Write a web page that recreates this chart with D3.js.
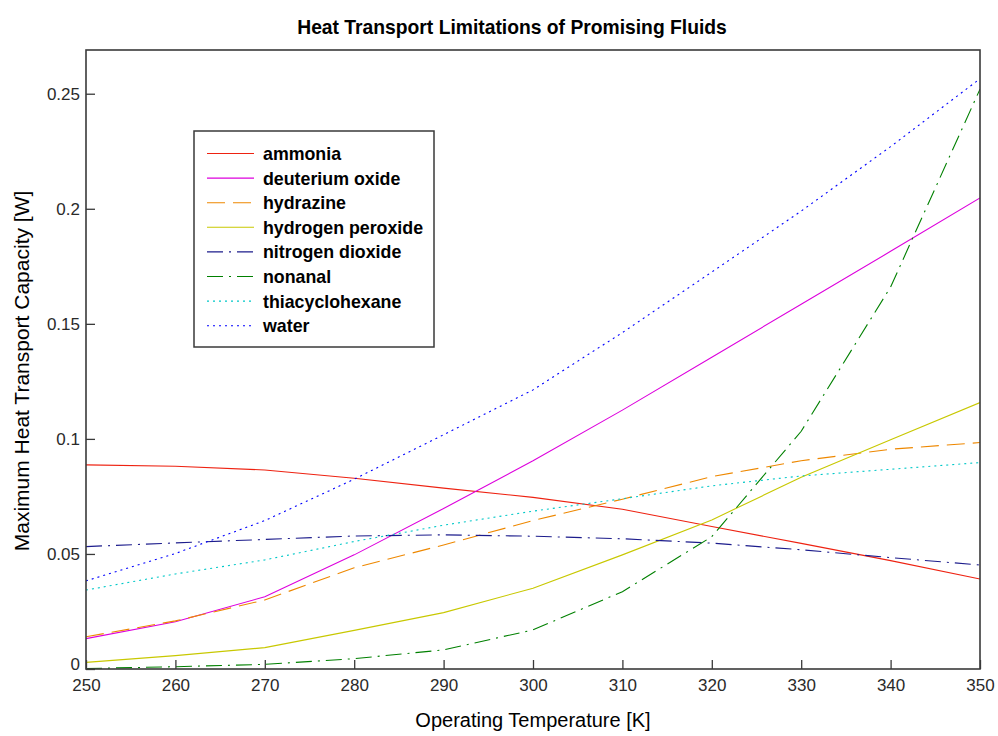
<!DOCTYPE html>
<html>
<head>
<meta charset="utf-8">
<script src="https://cdn.jsdelivr.net/npm/d3@7"></script>
<style>
  html, body { margin: 0; padding: 0; background: #fff; }
  svg { display: block; font-family: "Liberation Sans", Arial, sans-serif; }
</style>
</head>
<body>
<svg id="chart" width="998" height="736"></svg>
<script>
// ---------------- data ----------------
const temperatures = [250, 260, 270, 280, 290, 300, 310, 320, 330, 340, 350];
const ammonia          = [0.0887, 0.0881, 0.0865, 0.0829, 0.0786, 0.0746, 0.0694, 0.0619, 0.0546, 0.0471, 0.0391];
const deuteriumOxide   = [0.0132, 0.0205, 0.0314, 0.0496, 0.0697, 0.0905, 0.1125, 0.1355, 0.1585, 0.1815, 0.2047];
const hydrazine        = [0.0140, 0.0209, 0.0300, 0.0440, 0.0539, 0.0645, 0.0738, 0.0836, 0.0905, 0.0955, 0.0984];
const hydrogenPeroxide = [0.0029, 0.0058, 0.0093, 0.0168, 0.0245, 0.0351, 0.0496, 0.0648, 0.0833, 0.0996, 0.1158];
const nitrogenDioxide  = [0.0532, 0.0548, 0.0563, 0.0578, 0.0583, 0.0577, 0.0566, 0.0547, 0.0518, 0.0484, 0.0452];
const nonanal          = [0.0002, 0.0010, 0.0020, 0.0045, 0.0083, 0.0170, 0.0336, 0.0575, 0.1033, 0.1660, 0.2520];
const thiacyclohexane  = [0.0343, 0.0413, 0.0474, 0.0554, 0.0625, 0.0686, 0.0740, 0.0796, 0.0839, 0.0868, 0.0897];
const water            = [0.0383, 0.0502, 0.0645, 0.0825, 0.1018, 0.1213, 0.1462, 0.1725, 0.1990, 0.2270, 0.2565];

const seriesNames = ["ammonia", "deuterium oxide", "hydrazine", "hydrogen peroxide",
                     "nitrogen dioxide", "nonanal", "thiacyclohexane", "water"];
const seriesValues = [ammonia, deuteriumOxide, hydrazine, hydrogenPeroxide,
                      nitrogenDioxide, nonanal, thiacyclohexane, water];
const xTicks = [250, 260, 270, 280, 290, 300, 310, 320, 330, 340, 350];
const yTicks = [0, 0.05, 0.1, 0.15, 0.2, 0.25];
const yTickLabels = ["0", "0.05", "0.1", "0.15", "0.2", "0.25"];

// ---------------- styles ----------------
const colors = ["#ee2211", "#dd00dd", "#ee8800", "#c8c800", "#1c1c8c", "#008000", "#00c8c8", "#0000ff"];
const dashes = [null, null, "18,8", null, "16,6,2,6", "16,6,2,6", "2,4", "2,4"];

// ---------------- layout ----------------
const svg = d3.select("#chart");
const L = 86, T = 50, R = 980, B = 669;
const x = d3.scaleLinear().domain([250, 350]).range([L, R]);
const y = d3.scaleLinear().domain([0, 0.269]).range([B, T]);

svg.append("rect").attr("width", 998).attr("height", 736).attr("fill", "#fff");

svg.append("clipPath").attr("id", "clip")
  .append("rect").attr("x", L).attr("y", T).attr("width", R - L).attr("height", B - T);

// lines
const line = d3.line().x((d, i) => x(temperatures[i])).y(d => y(d));
const g = svg.append("g").attr("clip-path", "url(#clip)");
seriesValues.forEach((vals, k) => {
  g.append("path")
    .attr("d", line(vals))
    .attr("fill", "none")
    .attr("stroke", colors[k])
    .attr("stroke-width", 1.1)
    .attr("stroke-dasharray", dashes[k]);
});

// axes
const axisColor = "#3a3a3a";
const xAxis = d3.axisBottom(x).tickValues(xTicks).tickSizeInner(-9).tickSizeOuter(0).tickPadding(13)
  .tickFormat(d3.format("d"));
const yAxis = d3.axisLeft(y).tickValues(yTicks).tickSizeInner(-9).tickSizeOuter(0).tickPadding(15)
  .tickFormat((d, i) => yTickLabels[i]);

const gx = svg.append("g").attr("transform", `translate(0,${B})`).call(xAxis);
const gy = svg.append("g").attr("transform", `translate(${L},0)`).call(yAxis);
[gx, gy].forEach(a => {
  a.select(".domain").remove();
  a.selectAll(".tick line").attr("stroke", axisColor).attr("stroke-width", 1.3);
  a.selectAll(".tick text").attr("fill", "#2a2a2a").style("font-size", "17px")
    .style("font-family", "'Liberation Sans', Arial, sans-serif");
});
gx.selectAll(".tick text").attr("dy", "0.55em");
gy.selectAll(".tick text").attr("x", -6);
gy.selectAll(".tick").filter(d => d === 0).select("text").attr("dy", "0.0em");

// box
svg.append("rect").attr("x", L).attr("y", T).attr("width", R - L).attr("height", B - T)
  .attr("fill", "none").attr("stroke", axisColor).attr("stroke-width", 1.6);

// title & labels
svg.append("text").attr("x", 512).attr("y", 34).attr("text-anchor", "middle")
  .style("font-size", "19.3px").style("font-weight", "bold").attr("fill", "#000")
  .text("Heat Transport Limitations of Promising Fluids");
svg.append("text").attr("x", 533).attr("y", 727).attr("text-anchor", "middle")
  .style("font-size", "20px").attr("fill", "#000")
  .text("Operating Temperature [K]");
svg.append("text").attr("transform", "translate(29,371) rotate(-90)").attr("text-anchor", "middle")
  .style("font-size", "21px").attr("fill", "#000")
  .text("Maximum Heat Transport Capacity [W]");

// legend
const lg = svg.append("g");
lg.append("rect").attr("x", 194).attr("y", 131).attr("width", 240).attr("height", 216)
  .attr("fill", "#fff").attr("stroke", axisColor).attr("stroke-width", 1.5);
seriesNames.forEach((name, k) => {
  const cy = 153.5 + k * 24.6;
  lg.append("line").attr("x1", 207).attr("x2", 254).attr("y1", cy).attr("y2", cy)
    .attr("stroke", colors[k]).attr("stroke-width", 1.1).attr("stroke-dasharray", dashes[k]);
  lg.append("text").attr("x", 263).attr("y", cy).attr("dy", "0.36em")
    .style("font-size", "17.8px").style("font-weight", "bold").attr("fill", "#000")
    .text(name);
});
</script>
</body>
</html>
